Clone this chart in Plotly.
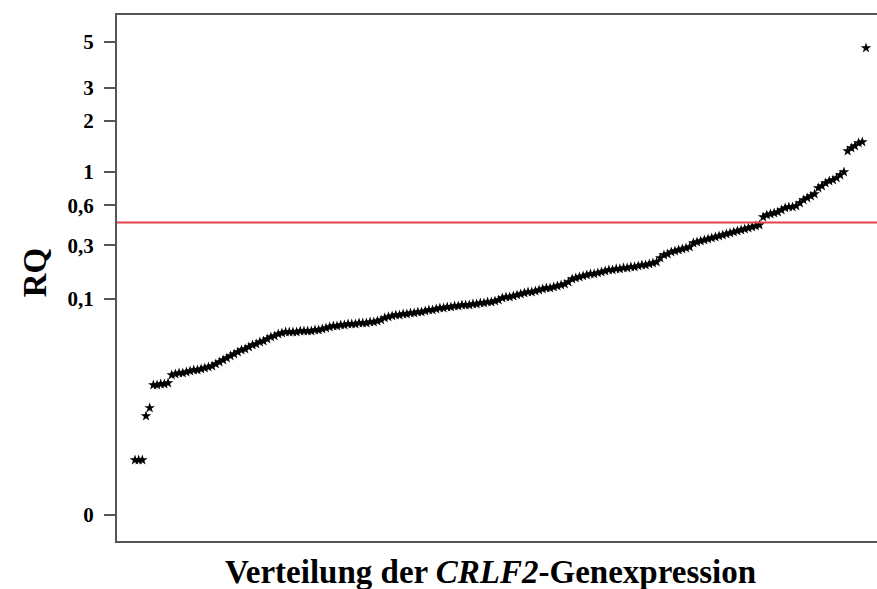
import plotly.graph_objects as go
import numpy as np

# RQ values of the sorted cases
rq_values = [
    0.000106, 0.000106, 0.000106, 0.00200, 0.00296, 0.00782, 0.00782, 0.00812, 0.00812, 0.00844,
    0.01133, 0.01173, 0.01215, 0.01215, 0.01258, 0.01303, 0.01349, 0.01349, 0.01396, 0.01444,
    0.01494, 0.01546, 0.01653, 0.01765, 0.01884, 0.02010, 0.02142, 0.02278, 0.02422, 0.02575,
    0.02653, 0.02816, 0.02991, 0.03079, 0.03264, 0.03360, 0.03558, 0.03766, 0.03873, 0.04091,
    0.04204, 0.04320, 0.04320, 0.04320, 0.04320, 0.04439, 0.04439, 0.04439, 0.04439, 0.04561,
    0.04561, 0.04685, 0.04812, 0.04943, 0.05077, 0.05077, 0.05216, 0.05216, 0.05354, 0.05354,
    0.05354, 0.05496, 0.05496, 0.05496, 0.05641, 0.05641, 0.05789, 0.05941, 0.06254, 0.06414,
    0.06577, 0.06740, 0.06740, 0.06910, 0.06910, 0.07082, 0.07082, 0.07259, 0.07259, 0.07439,
    0.07623, 0.07623, 0.07811, 0.08003, 0.08003, 0.08199, 0.08199, 0.08399, 0.08399, 0.08602,
    0.08602, 0.08602, 0.08808, 0.08808, 0.09018, 0.09018, 0.09232, 0.09232, 0.09450, 0.09672,
    0.1013, 0.1037, 0.1037, 0.1061, 0.1086, 0.1110, 0.1136, 0.1161, 0.1161, 0.1187,
    0.1214, 0.1241, 0.1269, 0.1269, 0.1297, 0.1326, 0.1356, 0.1385, 0.1446, 0.1542,
    0.1575, 0.1608, 0.1643, 0.1677, 0.1713, 0.1713, 0.1749, 0.1785, 0.1822, 0.1860,
    0.1860, 0.1899, 0.1899, 0.1938, 0.1938, 0.1978, 0.1978, 0.2017, 0.2057, 0.2057,
    0.2098, 0.2140, 0.2183, 0.2363, 0.2503, 0.2551, 0.2650, 0.2701, 0.2752, 0.2804,
    0.2857, 0.2911, 0.3135, 0.3193, 0.3252, 0.3312, 0.3373, 0.3435, 0.3498, 0.3561,
    0.3625, 0.3690, 0.3756, 0.3823, 0.3891, 0.3960, 0.4030, 0.4101, 0.4173, 0.4246,
    0.4320, 0.4950, 0.5118, 0.5204, 0.5291, 0.5379, 0.5560, 0.5746, 0.5840, 0.5840,
    0.5937, 0.6227, 0.6534, 0.6744, 0.6958, 0.7178, 0.7878, 0.8120, 0.8496, 0.8755,
    0.8889, 0.9160, 0.9570, 1.000, 1.346, 1.402, 1.441, 1.501, 1.521, 4.679,
]
case_rank = list(range(1, len(rq_values) + 1))

threshold = 0.45
tick_values = [0, 0.1, 0.3, 0.6, 1, 2, 3, 5]
tick_labels = ["0", "0,1", "0,3", "0,6", "1", "2", "3", "5"]

POWER = 0.2  # power (fifth-root) axis scale


def scale(v):
    return np.power(np.asarray(v, dtype=float), POWER)


font_family = "Liberation Serif, Times New Roman, serif"

fig = go.Figure()
fig.add_trace(go.Scatter(
    x=case_rank, y=scale(rq_values), mode="markers",
    marker=dict(symbol="star", size=8, color="black", line=dict(width=0)),
    showlegend=False, hoverinfo="skip", cliponaxis=False,
))

fig.add_shape(type="line", xref="paper", x0=0, x1=1, yref="y",
              y0=float(scale(threshold)), y1=float(scale(threshold)),
              line=dict(color="#e8424c", width=2))

n = len(rq_values)
fig.update_layout(
    width=877, height=589,
    margin=dict(l=117, r=0, t=15, b=48),
    paper_bgcolor="white", plot_bgcolor="white",
    font=dict(family=font_family, color="black"),
    hovermode=False,
    xaxis=dict(range=[1 - 18 / 3.673, n + 11 / 3.673], showgrid=False, zeroline=False,
               showticklabels=False, ticks="", showline=True, linecolor="#555555",
               linewidth=2, mirror=True),
    yaxis=dict(range=[-0.0758, 1.4577], showgrid=False, zeroline=False,
               tickvals=list(scale(tick_values)), ticktext=tick_labels,
               ticks="outside", ticklen=11, tickwidth=2, tickcolor="#555555",
               showline=True, linecolor="#555555", linewidth=2,
               tickfont=dict(family=font_family, size=21, color="black", weight="bold"),
               ticklabelstandoff=6),
    annotations=[
        dict(text="<b>Verteilung der <i>CRLF2</i>-Genexpression</b>", xref="paper", yref="paper",
             x=0.492, y=0, yanchor="middle", yshift=-31, showarrow=False,
             font=dict(family=font_family, size=33, color="black")),
        dict(text="<b>RQ</b>", xref="paper", yref="paper", x=0, xshift=-82, y=0.511,
             textangle=-90, showarrow=False, xanchor="center", yanchor="middle",
             font=dict(family=font_family, size=33, color="black")),
    ],
)

fig.write_html(
    "out.html",
    config={"displayModeBar": False, "staticPlot": True},
    post_script="document.body.style.margin='0';document.body.style.overflow='hidden';",
)
